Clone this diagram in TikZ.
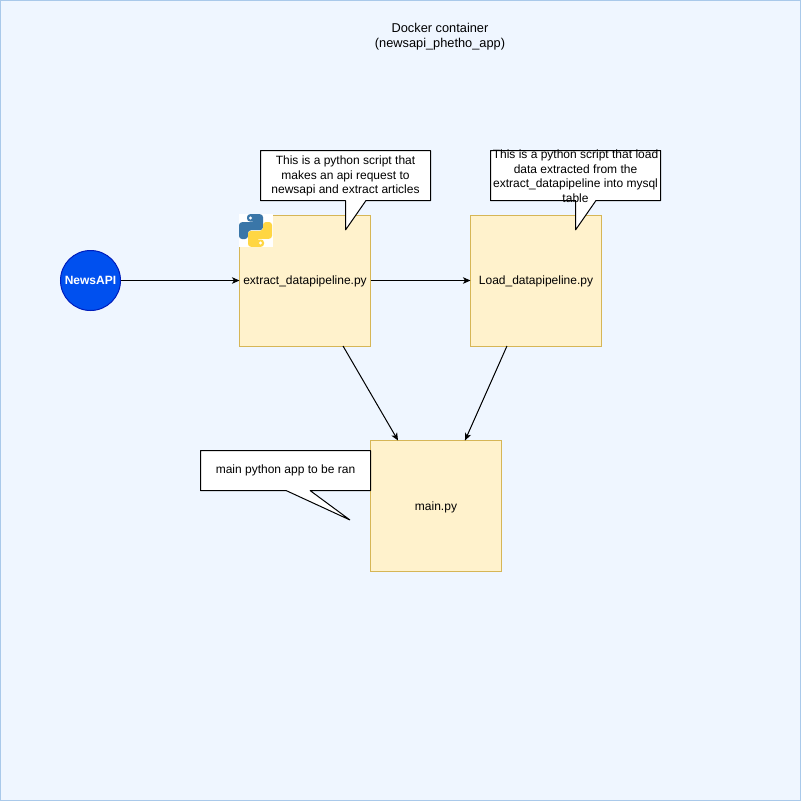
\documentclass[tikz,border=0pt]{standalone}
\usepackage{fontspec}
\setmainfont{Liberation Sans}
\usetikzlibrary{arrows.meta}
\definecolor{pagebg}{HTML}{EFF6FF}
\definecolor{pageline}{HTML}{A9C9EA}
\definecolor{boxfill}{HTML}{FFF2CC}
\definecolor{boxline}{HTML}{D6B656}
\definecolor{apifill}{HTML}{0050EF}
\definecolor{apiline}{HTML}{001DBC}
\definecolor{pyblue}{HTML}{3A76A8}
\definecolor{pyyellow}{HTML}{FFD643}
\tikzset{
  x=1pt,y=-1pt,
  every node/.style={font=\fontsize{12}{14.5}\selectfont,align=center,inner sep=0pt,outer sep=0pt},
  filebox/.style={draw=boxline,fill=boxfill,line width=1pt,minimum width=131pt,minimum height=131pt},
  apicircle/.style={circle,draw=apiline,fill=apifill,line width=1pt,minimum size=60pt,text=white},
  flow/.style={draw=black,line width=1pt,-{Stealth[length=7.5pt,width=6.5pt,inset=2pt]}},
  calloutshape/.style={draw=black,fill=white,line width=1pt,line join=bevel},
}
\begin{document}
\begin{tikzpicture}
\useasboundingbox (0,0) rectangle (801,801);
\path[fill=pagebg,draw=pageline,line width=1pt] (0.5,0.5) rectangle (800.5,800.5);
\node[font=\fontsize{12.8}{15}\selectfont] (title) at (440,37) {Docker container\\(newsapi\_phetho\_app)};

\node[filebox] (ext) at (305,280.5) {};
\node[filebox] (load) at (536,280.5) {};
\node[filebox] (main) at (436,506) {};
\node[apicircle] (api) at (90.5,280.5) {};

\draw[flow] (api) -- (ext);
\draw[flow] (ext) -- (load);
\draw[flow] (ext) -- (main);
\draw[flow] (load) -- (main);

\node[yshift=-1.2pt] (mainlabel) at (main) {main.py};
\node[text=white,font=\fontsize{12}{14}\bfseries\selectfont] (apilabel) at (api) {NewsAPI};
\node[yshift=-0.8pt] (extlabel) at (ext) {extract\_datapipeline.py};
\node[yshift=-0.8pt] (loadlabel) at (load) {Load\_datapipeline.py};

% python logo
\fill[white] (239,214) rectangle (273,247);
\fill[pyblue,rounded corners=3pt] (247,221.5) -- (247,214.2) -- (263,214.2) -- (263,230.2) -- (248,230.2) -- (248,239) -- (239,239) -- (239,222.2) -- (255.5,222.2) -- (255.5,221.5) -- cycle;
\fill[pyyellow,rounded corners=3pt] (264,239.5) -- (264,246.8) -- (248,246.8) -- (248,230.8) -- (263,230.8) -- (263,222) -- (272,222) -- (272,238.8) -- (255.5,238.8) -- (255.5,239.5) -- cycle;
\fill[white] (250.5,218) circle (1.6pt);
\fill[white] (260.5,243) circle (1.6pt);

% callouts
\path[calloutshape] (260.5,150.5) -- (430.5,150.5) -- (430.5,200.5) -- (366,200.5) -- (345.5,230) -- (345.5,200.5) -- (260.5,200.5) -- cycle;
\node (c1) at (345.5,176) {This is a python script that\\makes an api request to\\newsapi and extract articles};
\path[calloutshape] (490.5,150.5) -- (660.5,150.5) -- (660.5,200.5) -- (596,200.5) -- (575.5,230) -- (575.5,200.5) -- (490.5,200.5) -- cycle;
\node (c2) at (575.5,176) {This is a python script that load\\data extracted from the\\extract\_datapipeline into mysql\\table};
\path[calloutshape] (200.5,450.5) -- (370.5,450.5) -- (370.5,490.5) -- (310,490.5) -- (350,520) -- (286,490.5) -- (200.5,490.5) -- cycle;
\node (c3) at (285.5,470) {main python app to be ran};
\end{tikzpicture}
\end{document}
